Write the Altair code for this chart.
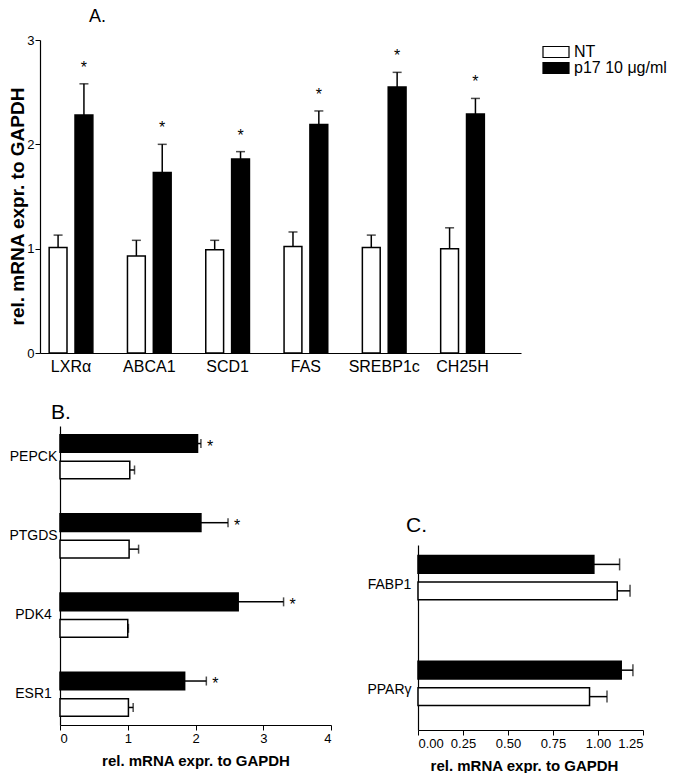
import altair as alt
import pandas as pd

SERIES = ["NT", "p17 10 μg/ml"]

# Panel A
a_genes = ["LXRα", "ABCA1", "SCD1", "FAS", "SREBP1c", "CH25H"]
a_nt = [1.01, 0.93, 0.99, 1.02, 1.01, 1.00]
a_nt_err = [0.12, 0.15, 0.09, 0.14, 0.12, 0.20]
a_p17 = [2.28, 1.73, 1.86, 2.19, 2.55, 2.29]
a_p17_err = [0.30, 0.27, 0.07, 0.13, 0.14, 0.15]
a_sig = [True, True, True, True, True, True]

# Panel B
b_genes = ["PEPCK", "PTGDS", "PDK4", "ESR1"]
b_nt = [1.03, 1.02, 1.00, 1.01]
b_nt_err = [0.07, 0.14, 0.01, 0.07]
b_p17 = [2.03, 2.08, 2.63, 1.84]
b_p17_err = [0.05, 0.40, 0.67, 0.32]
b_sig = [True, True, True, True]

# Panel C
c_genes = ["FABP1", "PPARγ"]
c_nt = [1.107, 0.953]
c_nt_err = [0.071, 0.097]
c_p17 = [0.977, 1.129]
c_p17_err = [0.143, 0.065]
c_sig = [False, False]

Y_TITLE = "rel. mRNA expr. to GAPDH"
FONT = "Liberation Sans"


def frame(genes, nt, nt_err, p17, p17_err, sig):
    rows = []
    for i, g in enumerate(genes):
        rows.append(dict(gene=g, series=SERIES[0], value=nt[i],
                         upper=nt[i] + nt_err[i], star=""))
        rows.append(dict(gene=g, series=SERIES[1], value=p17[i],
                         upper=p17[i] + p17_err[i], star="*" if sig[i] else ""))
    return pd.DataFrame(rows)


color_scale = alt.Scale(domain=SERIES, range=["white", "black"])

# ---------------- Panel A ----------------
dfa = frame(a_genes, a_nt, a_nt_err, a_p17, a_p17_err, a_sig)
xa = alt.X("gene:N", sort=a_genes,
           scale=alt.Scale(range=[-20, 461], paddingInner=0.442,
                           paddingOuter=0.2925, align=0.2),
           axis=alt.Axis(title=None, labelAngle=0, ticks=False, tickSize=0,
                         labelPadding=5, labelFontSize=16, domainWidth=1.2))
xoa = alt.XOffset("series:N", sort=SERIES,
                  scale=alt.Scale(domain=SERIES, paddingInner=0.31, paddingOuter=0))
ya_axis = alt.Axis(values=[0, 1, 2, 3], title=Y_TITLE, titleFontSize=19,
                   titleFontWeight="bold", titlePadding=-1, titleY=166, offset=20,
                   tickSize=5, labelPadding=1, labelFontSize=13, domainWidth=1.2)
ya_scale = alt.Scale(domain=[0, 3], nice=False)

baseA = alt.Chart(dfa)
barsA = baseA.mark_bar(stroke="black", strokeWidth=1.5).encode(
    x=xa, xOffset=xoa,
    y=alt.Y("value:Q", scale=ya_scale, axis=ya_axis),
    color=alt.Color("series:N", scale=color_scale,
                    legend=alt.Legend(title=None, orient="none", legendX=488,
                                      legendY=4,
                                      symbolType="M-2.364,-1H2.364V1H-2.364Z",
                                      symbolSize=121, symbolStrokeColor="black",
                                      symbolStrokeWidth=1.2, symbolOpacity=1,
                                      labelFontSize=16, labelOffset=10,
                                      rowPadding=-3, padding=0, labelColor="black")),
)
ruleA = baseA.mark_rule(color="black", strokeWidth=1.5).encode(
    x=xa, xOffset=xoa,
    y=alt.Y("value:Q", scale=ya_scale, axis=ya_axis), y2="upper:Q")
capA = baseA.mark_tick(color="black", size=9, thickness=1.5).encode(
    x=xa, xOffset=xoa, y=alt.Y("upper:Q", scale=ya_scale, axis=ya_axis))
starA = baseA.mark_text(fontSize=16, baseline="alphabetic", dy=-11, color="black").encode(
    x=xa, xOffset=xoa, y=alt.Y("upper:Q", scale=ya_scale, axis=ya_axis), text="star:N")

chartA = alt.layer(barsA, ruleA, capA, starA).properties(
    width=461, height=313,
    title=alt.TitleParams("A.", anchor="start", frame="group", dx=29, offset=8,
                          fontSize=18, fontWeight="normal"),
)


# ---------------- Horizontal panels ----------------
def hpanel(df, genes, xmax, xvals, fmt, width, height, pin, pout, poin, cap,
           lpad, title, tdx, toff, title_x):
    y = alt.Y("gene:N", sort=genes,
              scale=alt.Scale(paddingInner=pin, paddingOuter=pout),
              axis=alt.Axis(title=None, ticks=False, tickSize=0, labelAlign="center",
                            labelPadding=lpad, labelFontSize=14, domainWidth=1.2))
    yo = alt.YOffset("series:N", sort=SERIES[::-1],
                     scale=alt.Scale(domain=SERIES[::-1], paddingInner=poin,
                                     paddingOuter=0))
    xs = alt.Scale(domain=[0, xmax], nice=False)
    xax = alt.Axis(values=xvals, format=fmt, title=Y_TITLE, titleFontSize=15,
                   titleFontWeight="bold", titlePadding=8, titleX=title_x, tickSize=5,
                   labelPadding=2, labelFontSize=13, domainWidth=1.2)
    base = alt.Chart(df)
    bars = base.mark_bar(stroke="black", strokeWidth=1.5).encode(
        y=y, yOffset=yo, x=alt.X("value:Q", scale=xs, axis=xax),
        color=alt.Color("series:N", scale=color_scale, legend=None))
    rule = base.mark_rule(color="black", strokeWidth=1.5).encode(
        y=y, yOffset=yo, x=alt.X("value:Q", scale=xs, axis=xax), x2="upper:Q")
    capm = base.mark_tick(color="black", size=cap, thickness=1.5).encode(
        y=y, yOffset=yo, x=alt.X("upper:Q", scale=xs, axis=xax))
    star = base.mark_text(fontSize=16, align="left", baseline="alphabetic",
                          dx=6, dy=8, color="black").encode(
        y=y, yOffset=yo, x=alt.X("upper:Q", scale=xs, axis=xax), text="star:N")
    return alt.layer(bars, rule, capm, star).properties(
        width=width, height=height,
        title=alt.TitleParams(title, anchor="start", frame="group", dx=tdx,
                              offset=toff, fontSize=21, fontWeight="normal"))


dfb = frame(b_genes, b_nt, b_nt_err, b_p17, b_p17_err, b_sig)
chartB = hpanel(dfb, b_genes, 4, [0, 1, 2, 3, 4], "d", 271, 299,
                0.443, 0.11, 0.333, 9, 27, "B.", -9, 3, 135.5)

dfc = frame(c_genes, c_nt, c_nt_err, c_p17, c_p17_err, c_sig)
chartC = hpanel(dfc, c_genes, 1.25, [0, 0.25, 0.5, 0.75, 1.0, 1.25], ".2f", 225, 185,
                0.451, 0.1, 0.31, 12, 29, "C.", -12, 9, 106)

spacer = alt.Chart(pd.DataFrame({"s": [""]})).mark_text().encode(
    text="s:N").properties(width=1, height=89)

right = alt.vconcat(spacer, chartC, spacing=0)
bottom = alt.concat(chartB, right, columns=2, align="none", spacing=34)

chart = alt.concat(chartA, bottom, columns=1, align="none", spacing=28).resolve_legend(
    color="independent"
).properties(padding=0).configure(font=FONT).configure_axis(
    labelColor="black", titleColor="black", domainColor="black", tickColor="black",
    grid=False, labelFont=FONT, titleFont=FONT
).configure_view(strokeWidth=0).configure_title(color="black", font=FONT)

chart.save("out.html", embed_options={"renderer": "svg", "actions": False})
